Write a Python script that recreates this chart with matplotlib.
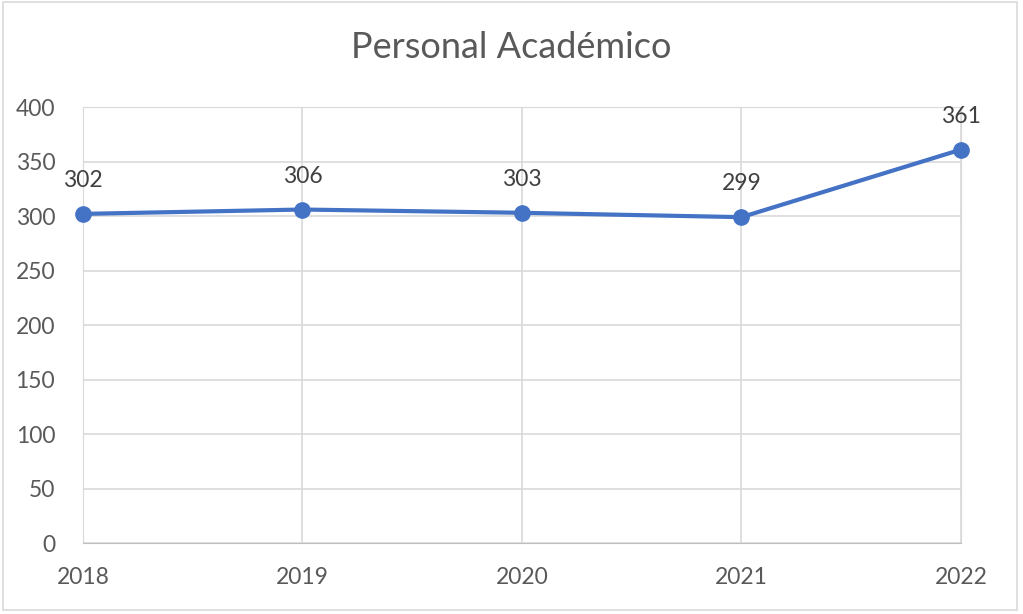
import matplotlib.pyplot as plt
from matplotlib.patches import Rectangle

years = ["2018", "2019", "2020", "2021", "2022"]
values = [302, 306, 303, 299, 361]
yticks = [0, 50, 100, 150, 200, 250, 300, 350, 400]

blue = "#4472C4"
grey_txt = "#595959"

plt.rcParams["font.family"] = ["Lato", "DejaVu Sans"]

fig = plt.figure(figsize=(10.23, 6.14), dpi=100)
ax = fig.add_axes([0.0811, 0.1156, 0.8583, 0.710])

x = list(range(len(years)))
ax.plot(x, values, color=blue, lw=3, marker="o", ms=11, zorder=3, clip_on=False)
for xi, v in zip(x, values):
    ax.annotate(str(v), (xi, v), xytext=(0, 24), textcoords="offset points",
                ha="center", va="center", fontsize=16.5, color="#404040")

ax.set_xlim(0, len(years) - 1)
ax.set_ylim(0, 400)
ax.set_xticks(x)
ax.set_xticklabels(years)
ax.set_yticks(yticks)
ax.grid(True, color="#D9D9D9", lw=1.2)
ax.set_axisbelow(True)
for s in ["top", "right", "left"]:
    ax.spines[s].set_color("#D9D9D9")
ax.spines["bottom"].set_color("#BFBFBF")
ax.tick_params(length=0, labelsize=16.5, colors=grey_txt)
ax.tick_params(axis="x", pad=17)
ax.tick_params(axis="y", pad=20)

fig.text(0.5, 0.922, "Personal Académico", ha="center", va="center",
         fontsize=26, color=grey_txt)

fig.patches.append(Rectangle((0.003, 0.006), 0.991, 0.99, transform=fig.transFigure,
                             fill=False, edgecolor="#D9D9D9", lw=1.2))

fig.savefig("out.png", dpi=100)
